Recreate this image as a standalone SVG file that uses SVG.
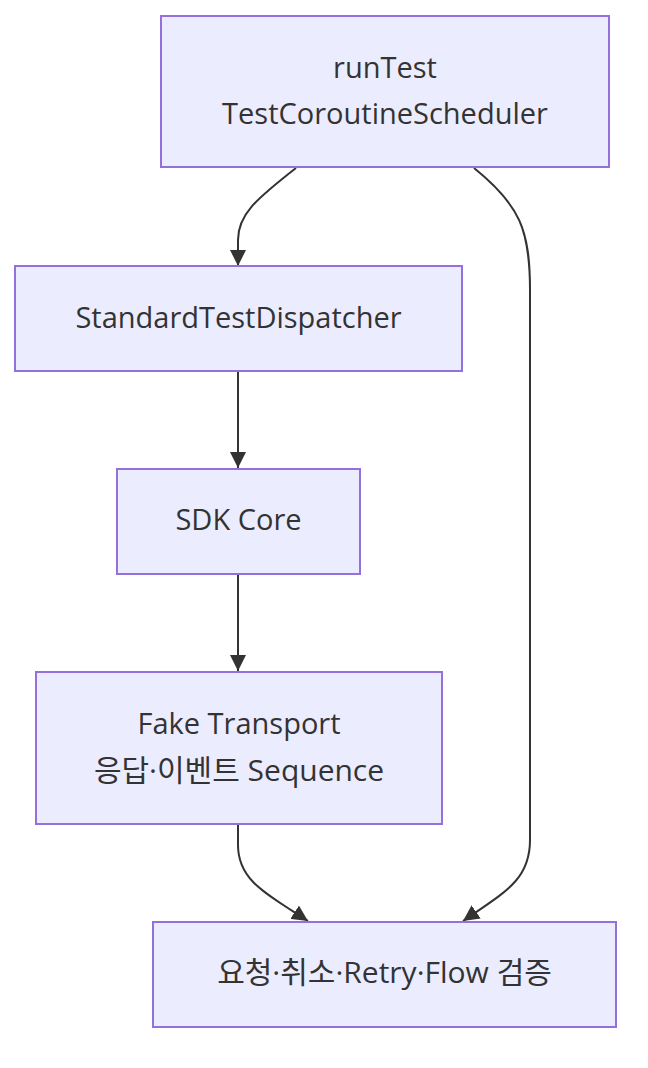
<svg xmlns="http://www.w3.org/2000/svg" width="648" height="1068" viewBox="0 0 648 1068">
<defs>
<style>
.node rect{fill:#ECECFF;stroke:#9370DB;stroke-width:2}
.node text{font-family:"Open Sans","Noto Sans CJK KR",sans-serif;font-size:29px;fill:#333333;text-anchor:middle;dominant-baseline:central}
.node text.ko{font-size:30px}
.edge{fill:none;stroke:#333333;stroke-width:2}
</style>
<marker id="arrow" markerUnits="userSpaceOnUse" viewBox="0 0 16 16" refX="16" refY="8" markerWidth="16" markerHeight="16" orient="auto">
<path d="M0,0 L16,8 L0,16 Z" fill="#333333"/>
</marker>
</defs>
<rect width="648" height="1068" fill="#ffffff"/>
<g id="connectors">
<path class="edge" d="M296,168 C255,200 238,215 238,240 L238,266" marker-end="url(#arrow)"/>
<path class="edge" d="M474,168 C520,205 530,230 530,290 L530,840 C530,880 505,892 463,921" marker-end="url(#arrow)"/>
<path class="edge" d="M238,371 L238,468" marker-end="url(#arrow)"/>
<path class="edge" d="M238,574 L238,671" marker-end="url(#arrow)"/>
<path class="edge" d="M238,824 L238,845 C238,880 265,893 308,921" marker-end="url(#arrow)"/>
</g>
<g id="node-runTest" class="node">
<rect x="161" y="16" width="448" height="151"/>
<text x="385" y="66">runTest</text>
<text x="385" y="112">TestCoroutineScheduler</text>
</g>
<g id="node-dispatcher" class="node">
<rect x="15" y="266" width="447" height="105"/>
<text x="238.5" y="316">StandardTestDispatcher</text>
</g>
<g id="node-sdk" class="node">
<rect x="117" y="469" width="243" height="105"/>
<text x="238.5" y="518">SDK Core</text>
</g>
<g id="node-fake" class="node">
<rect x="36" y="672" width="406" height="152"/>
<text x="239" y="722">Fake Transport</text>
<text class="ko" x="239" y="769">응답·이벤트 Sequence</text>
</g>
<g id="node-verify" class="node">
<rect x="153" y="922" width="463" height="105"/>
<text class="ko" x="384.5" y="971">요청·취소·Retry·Flow 검증</text>
</g>
</svg>
